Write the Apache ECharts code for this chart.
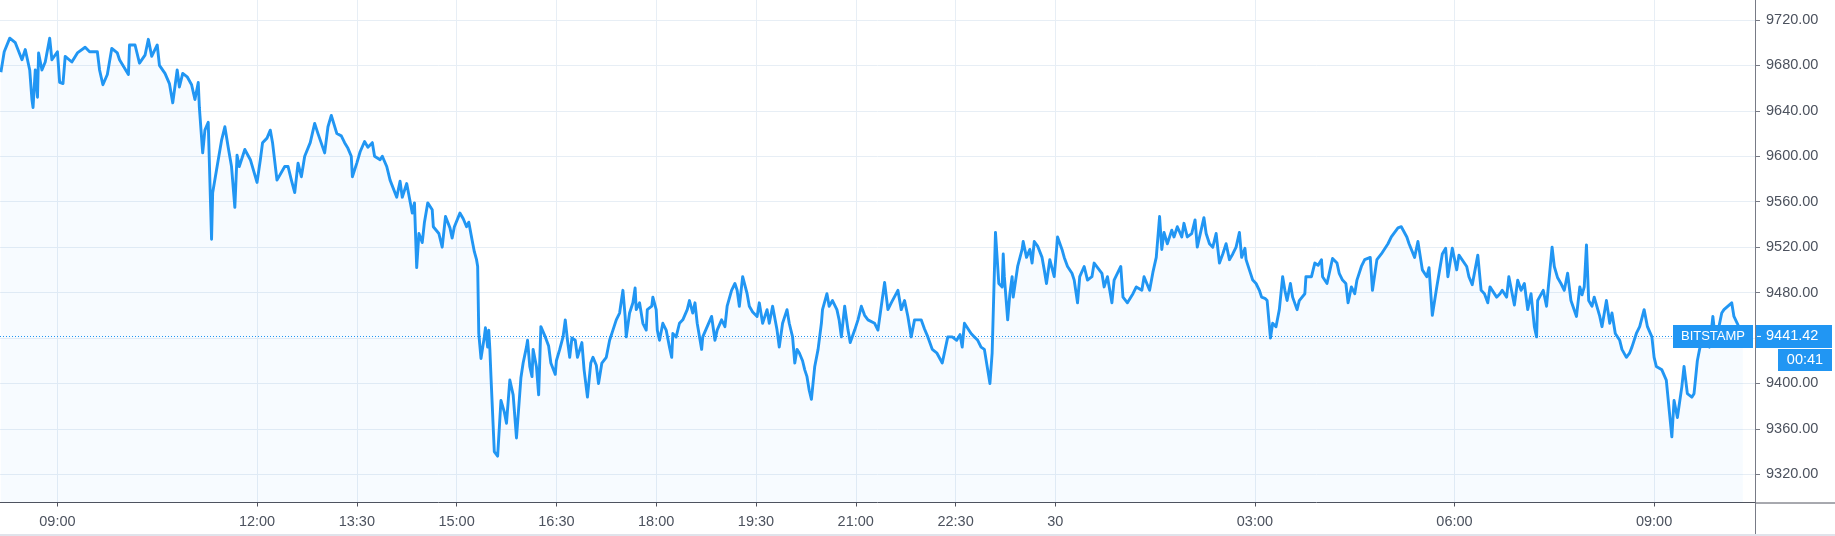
<!DOCTYPE html>
<html>
<head>
<meta charset="utf-8">
<script src="https://cdn.jsdelivr.net/npm/echarts@6/dist/echarts.min.js"></script>
<style>
html,body{margin:0;padding:0;background:#ffffff;}
#chart{width:1835px;height:536px;}
</style>
</head>
<body>
<div id="chart"></div>
<script>
// [minute relative to 09:00 on day 29, price]
const priceByMinute = [
[-51,9674],[-48,9692],[-43,9704],[-38,9700],[-32,9685],[-29,9694],[-25,9676],[-23,9650],[-22,9643],[-20,9676],
[-18,9652],[-17,9691],[-14,9676],[-11,9683],[-7,9704],[-5,9685],[0,9692],[2,9665],[5,9664],[7,9688],
[13,9683],[18,9691],[25,9696],[29,9692],[36,9692],[38,9676],[41,9663],[45,9672],[49,9695],[54,9691],
[56,9685],[64,9672],[65,9698],[70,9698],[74,9682],[79,9689],[82,9703],[85,9688],[90,9698],[92,9680],
[97,9673],[101,9664],[104,9647],[108,9676],[110,9661],[113,9673],[117,9670],[121,9663],[124,9650],[127,9665],
[128,9643],[131,9603],[133,9623],[136,9630],[139,9527],[140,9568],[144,9591],[148,9614],[151,9626],[154,9608],
[157,9591],[160,9555],[162,9601],[164,9591],[169,9606],[174,9597],[180,9577],[183,9597],[185,9612],[189,9616],
[192,9623],[194,9612],[198,9579],[205,9591],[208,9591],[211,9579],[214,9568],[217,9594],[220,9582],[223,9600],
[228,9612],[232,9629],[235,9620],[241,9603],[244,9626],[247,9636],[252,9620],[256,9618],[259,9612],[262,9607],
[265,9600],[266,9582],[270,9594],[273,9604],[277,9613],[280,9608],[284,9612],[286,9600],[291,9597],[293,9600],
[297,9591],[300,9579],[306,9564],[309,9578],[311,9564],[315,9576],[320,9550],[322,9559],[324,9502],[326,9532],
[329,9524],[331,9542],[334,9559],[338,9553],[339,9538],[344,9532],[347,9520],[350,9547],[354,9537],[356,9528],
[358,9538],[363,9550],[366,9545],[369,9538],[371,9542],[374,9526],[376,9516],[378,9509],[379,9503],[380,9444],
[382,9422],[385,9441],[386,9449],[388,9432],[389,9447],[390,9430],[391,9406],[394,9340],[397,9336],[400,9385],
[403,9375],[405,9365],[408,9403],[411,9390],[414,9352],[418,9405],[420,9418],[423,9432],[424,9438],[426,9415],
[428,9406],[429,9430],[432,9415],[434,9390],[436,9450],[440,9441],[443,9433],[445,9418],[449,9408],[450,9420],
[453,9430],[456,9441],[458,9456],[460,9438],[462,9423],[464,9440],[467,9438],[469,9423],[473,9436],[475,9412],
[478,9388],[481,9418],[483,9423],[486,9416],[488,9400],[491,9418],[495,9423],[498,9438],[501,9447],[504,9456],
[507,9462],[510,9482],[512,9459],[513,9441],[516,9462],[519,9471],[521,9484],[522,9465],[525,9471],[528,9453],
[531,9447],[532,9465],[536,9468],[537,9476],[540,9465],[541,9447],[543,9438],[546,9453],[549,9447],[552,9432],
[554,9423],[555,9444],[558,9441],[561,9453],[564,9456],[568,9465],[570,9473],[573,9462],[575,9471],[577,9453],
[581,9430],[582,9441],[586,9450],[590,9459],[593,9438],[595,9447],[599,9456],[602,9450],[604,9468],[608,9482],
[611,9488],[613,9482],[615,9468],[618,9494],[622,9479],[624,9468],[627,9463],[631,9459],[633,9471],[636,9453],
[640,9465],[642,9453],[645,9468],[649,9447],[651,9432],[654,9453],[658,9465],[660,9453],[663,9441],[665,9418],
[667,9430],[669,9427],[672,9420],[674,9412],[676,9406],[678,9394],[680,9386],[683,9415],[686,9430],[689,9453],
[690,9465],[694,9479],[696,9468],[699,9473],[703,9465],[705,9456],[707,9441],[710,9468],[713,9447],[715,9436],
[719,9447],[722,9456],[725,9468],[728,9460],[731,9456],[737,9453],[740,9447],[743,9468],[746,9489],[749,9465],
[752,9471],[758,9482],[761,9465],[764,9473],[767,9459],[770,9441],[773,9456],[779,9456],[782,9448],[785,9441],
[789,9430],[793,9427],[798,9418],[803,9441],[807,9441],[811,9438],[814,9443],[816,9432],[818,9453],[824,9444],
[827,9441],[830,9438],[833,9432],[836,9430],[841,9400],[843,9427],[846,9533],[849,9488],[852,9485],[853,9514],
[854,9494],[857,9456],[859,9479],[861,9494],[862,9476],[866,9503],[870,9518],[871,9525],[874,9511],[877,9518],
[879,9506],[881,9525],[884,9521],[888,9511],[890,9500],[892,9488],[895,9509],[899,9494],[902,9529],[906,9518],
[908,9511],[911,9503],[915,9497],[917,9491],[920,9471],[922,9494],[926,9503],[929,9491],[933,9494],[935,9506],
[942,9497],[944,9485],[947,9494],[951,9471],[953,9491],[959,9503],[961,9476],[965,9471],[970,9479],[973,9485],
[978,9482],[980,9494],[985,9482],[988,9498],[991,9511],[994,9547],[996,9518],[998,9533],[1001,9523],[1005,9535],
[1007,9529],[1010,9538],[1014,9529],[1016,9541],[1019,9529],[1023,9532],[1026,9544],[1028,9520],[1034,9546],[1036,9532],
[1039,9523],[1042,9520],[1045,9532],[1048,9506],[1051,9514],[1054,9523],[1057,9509],[1060,9514],[1063,9520],[1066,9533],
[1068,9511],[1071,9519],[1072,9509],[1075,9500],[1078,9491],[1081,9488],[1084,9482],[1086,9476],[1089,9475],[1091,9473],
[1094,9440],[1096,9453],[1099,9450],[1102,9465],[1105,9494],[1107,9482],[1109,9473],[1112,9488],[1114,9476],[1118,9465],
[1120,9473],[1125,9479],[1126,9494],[1131,9494],[1134,9506],[1137,9504],[1140,9509],[1141,9494],[1145,9488],[1150,9510],
[1154,9506],[1156,9497],[1159,9491],[1162,9488],[1164,9471],[1167,9485],[1170,9479],[1172,9491],[1176,9503],[1179,9509],
[1184,9511],[1186,9482],[1190,9509],[1194,9514],[1200,9523],[1203,9529],[1206,9533],[1209,9537],[1212,9538],[1217,9529],
[1219,9523],[1224,9511],[1227,9525],[1231,9500],[1235,9494],[1237,9502],[1240,9460],[1244,9485],[1249,9514],[1252,9519],
[1254,9494],[1258,9519],[1262,9500],[1264,9513],[1271,9503],[1273,9494],[1276,9487],[1281,9513],[1284,9482],[1287,9479],
[1290,9471],[1292,9485],[1298,9476],[1301,9479],[1303,9482],[1307,9476],[1309,9494],[1314,9469],[1317,9491],[1320,9482],
[1323,9488],[1326,9465],[1329,9479],[1332,9450],[1334,9441],[1335,9473],[1340,9482],[1343,9468],[1348,9520],[1350,9503],
[1353,9493],[1356,9488],[1359,9482],[1362,9497],[1365,9473],[1370,9459],[1373,9485],[1375,9478],[1377,9485],[1379,9522],
[1381,9473],[1384,9468],[1386,9476],[1391,9459],[1393,9450],[1397,9473],[1400,9453],[1402,9462],[1405,9444],[1409,9438],
[1411,9430],[1415,9423],[1418,9427],[1420,9432],[1424,9444],[1427,9450],[1431,9465],[1434,9450],[1438,9441],[1440,9423],
[1442,9415],[1447,9412],[1451,9403],[1456,9353],[1458,9385],[1461,9370],[1465,9397],[1467,9415],[1470,9391],[1474,9388],
[1476,9391],[1479,9420],[1481,9430],[1484,9441],[1490,9432],[1493,9459],[1494,9450],[1497,9443],[1501,9462],[1503,9465],
[1510,9471],[1512,9459],[1515,9453],[1520,9441.42]
];
const lastPrice = 9441.42;
const symbolLabel = 'BITSTAMP';
const countdownLabel = '00:41';
const xTickMinutes = [0,180,270,360,450,540,630,720,810,900,1080,1260,1440];
const xTickLabels = ['09:00','12:00','13:30','15:00','16:30','18:00','19:30','21:00','22:30','30','03:00','06:00','09:00'];
const yTickValues = [9320,9360,9400,9440,9480,9520,9560,9600,9640,9680,9720];

const FONT = 'Liberation Sans';

const chart = echarts.init(document.getElementById('chart'), null, {renderer: 'canvas'});
const gridRight = 80;
const gridBottom = 33.5;

chart.setOption({
  animation: false,
  backgroundColor: '#ffffff',
  grid: {left: 0, right: gridRight, top: 0, bottom: gridBottom, containLabel: false},
  xAxis: {
    type: 'value',
    min: -51.8,
    max: 1531,
    axisLine: {show: true, onZero: false, lineStyle: {color: '#50535e', width: 1}},
    axisTick: {show: true, length: 4, customValues: xTickMinutes, lineStyle: {color: '#50535e'}},
    axisLabel: {
      show: true, customValues: xTickMinutes, margin: 12,
      color: '#4c525e', fontFamily: FONT, fontSize: 14.5,
      formatter: v => { const k = xTickMinutes.indexOf(v); return k >= 0 ? xTickLabels[k] : ''; }
    },
    splitLine: {show: true, lineStyle: {color: '#e7eef5', width: 1}}
  },
  yAxis: {
    type: 'value',
    position: 'right',
    min: 9295.2,
    max: 9737.6,
    axisLine: {show: true, onZero: false, lineStyle: {color: '#787b86', width: 1}},
    axisTick: {show: true, length: 5, customValues: yTickValues, lineStyle: {color: '#787b86'}},
    axisLabel: {
      show: true, customValues: yTickValues, margin: 11,
      color: '#4c525e', fontFamily: FONT, fontSize: 14.5,
      formatter: v => Number(v).toFixed(2)
    },
    splitLine: {show: true, lineStyle: {color: '#e7eef5', width: 1}}
  },
  series: [{
    type: 'line',
    data: priceByMinute,
    symbol: 'none',
    smooth: false,
    lineStyle: {color: '#2196F3', width: 2.9, join: 'round'},
    areaStyle: {color: 'rgba(33,150,243,0.05)'},
    markLine: {
      silent: true,
      symbol: ['none', 'none'],
      label: {show: false},
      lineStyle: {color: '#2196F3', type: [1, 2], width: 1},
      data: [{yAxis: lastPrice}]
    },
    z: 3
  }]
});

const yPix = chart.convertToPixel({yAxisIndex: 0}, lastPrice);
const axisX = 1835 - gridRight;
const axisY = 536 - gridBottom;
const boxH = 23;
chart.setOption({
  graphic: [
    {type: 'line', shape: {x1: axisX, y1: axisY + 0.5, x2: 1835, y2: axisY + 0.5}, style: {stroke: '#50535e', lineWidth: 1}, z: 10},
    {type: 'line', shape: {x1: axisX + 0.5, y1: axisY, x2: axisX + 0.5, y2: 536}, style: {stroke: '#787b86', lineWidth: 1}, z: 10},
    {type: 'rect', shape: {x: 0, y: 534, width: 1835, height: 2}, style: {fill: '#e0e3eb'}, z: 10},
    {type: 'rect', shape: {x: axisX - 82, y: yPix - boxH / 2, width: 80, height: boxH}, style: {fill: '#2196F3'}, z: 20},
    {type: 'text', x: axisX - 42, y: yPix, style: {text: symbolLabel, fill: '#ffffff', font: '13px "' + FONT + '"', align: 'center', verticalAlign: 'middle'}, z: 21},
    {type: 'rect', shape: {x: axisX + 1, y: yPix - boxH / 2, width: 76, height: boxH}, style: {fill: '#2196F3'}, z: 20},
    {type: 'line', shape: {x1: axisX + 2, y1: yPix, x2: axisX + 6, y2: yPix}, style: {stroke: '#ffffff', lineWidth: 1}, z: 21},
    {type: 'text', x: axisX + 11, y: yPix, style: {text: lastPrice.toFixed(2), fill: '#ffffff', font: '14.5px "' + FONT + '"', align: 'left', verticalAlign: 'middle'}, z: 21},
    {type: 'rect', shape: {x: axisX + 23, y: yPix + boxH / 2 + 1, width: 54, height: 22}, style: {fill: '#2196F3'}, z: 20},
    {type: 'text', x: axisX + 50, y: yPix + boxH / 2 + 12, style: {text: countdownLabel, fill: '#ffffff', font: '14.5px "' + FONT + '"', align: 'center', verticalAlign: 'middle'}, z: 21}
  ]
});
</script>
</body>
</html>
